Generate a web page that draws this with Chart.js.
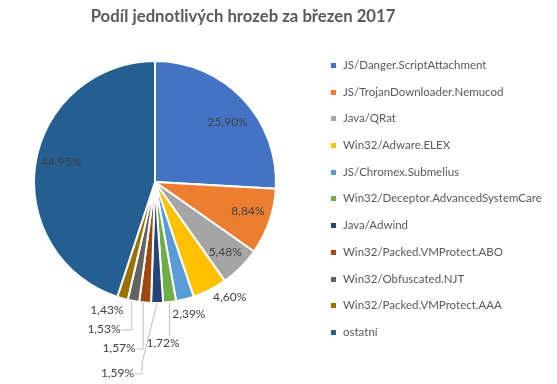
<!DOCTYPE html>
<html lang="cs">
<head>
<meta charset="UTF-8">
<title>Podíl jednotlivých hrozeb</title>
<script src="https://cdn.jsdelivr.net/npm/chart.js"></script>
<style>
  body { margin: 0; background: #fff; font-family: Lato, "Open Sans", sans-serif; }
  .wrap { position: relative; width: 557px; height: 384px; overflow: hidden; }
  #pie { position: absolute; left: 0; top: 0; }
  .title {
    position: absolute; left: 243px; top: 6px; transform: translateX(-50%);
    white-space: nowrap; font-weight: bold; font-size: 16.7px; color: #595959;
  }
  #legend { position: absolute; left: 331px; top: 57px; margin: 0; padding: 0; list-style: none; }
  #legend li {
    height: 26.7px; line-height: 16px; font-size: 11.5px; color: #595959;
    white-space: nowrap; display: flex; align-items: flex-start;
  }
  #legend .box { width: 5px; height: 5px; margin: 6px 7px 0 0; flex: none; }
</style>
</head>
<body>
<div class="wrap">
  <canvas id="pie" width="557" height="384"></canvas>
  <div class="title">Podíl jednotlivých hrozeb za březen 2017</div>
  <ul id="legend"></ul>
</div>

<script>
const threats = [
  'JS/Danger.ScriptAttachment',
  'JS/TrojanDownloader.Nemucod',
  'Java/QRat',
  'Win32/Adware.ELEX',
  'JS/Chromex.Submelius',
  'Win32/Deceptor.AdvancedSystemCare',
  'Java/Adwind',
  'Win32/Packed.VMProtect.ABO',
  'Win32/Obfuscated.NJT',
  'Win32/Packed.VMProtect.AAA',
  'ostatní'
];
const shares = [25.90, 8.84, 5.48, 4.60, 2.39, 1.72, 1.59, 1.57, 1.53, 1.43, 44.95];
const sliceColors = ['#4472C4', '#ED7D31', '#A5A5A5', '#FFC000', '#5B9BD5', '#70AD47',
                     '#264478', '#9E480E', '#636363', '#997300', '#255E91'];

// where each percentage label sits: r = fraction of radius, a = angle shift (deg),
// or an offset from the slice edge with a leader line (path relative to the edge point)
const labelSpots = [
  { r: 0.78, a: 3.7 },
  { r: 0.805, a: -1.8 },
  { r: 0.82, a: 0 },
  { r: 1.135, a: -6 },
  { r: 1.13, a: 0 },
  { dx: -6.6, dy: 40.6, path: [[0, 0], [0, 34]] },
  { dx: -39.6, dy: 69.7, path: [[0, 0], [-15, 60], [-15, 71], [-22, 71]] },
  { dx: -26, dy: 45.4, path: [[-2, 0], [-2, 46.5], [-8, 46.5]] },
  { dx: -29.4, dy: 27.9, path: [[-1.7, 0], [-1.7, 28.9], [-12.4, 28.9]] },
  { r: 1.13, a: 5 },
  { r: 0.795, a: 3.1 }
];

const pctLabels = {
  id: 'pctLabels',
  afterDatasetsDraw(chart) {
    const ctx = chart.ctx;
    const arcs = chart.getDatasetMeta(0).data;
    ctx.save();
    ctx.font = '12px Lato, "Open Sans", sans-serif';
    ctx.fillStyle = '#404040';
    ctx.textAlign = 'center';
    ctx.textBaseline = 'middle';
    ctx.strokeStyle = '#BFBFBF';
    ctx.lineWidth = 1;
    arcs.forEach((arc, i) => {
      const spot = labelSpots[i];
      const mid = (arc.startAngle + arc.endAngle) / 2;
      const R = arc.outerRadius;
      const text = shares[i].toFixed(2).replace('.', ',') + '%';
      let lx, ly;
      if (spot.path) {
        const ax = arc.x + R * Math.cos(mid);
        const ay = arc.y + R * Math.sin(mid);
        ctx.beginPath();
        spot.path.forEach(([px, py], k) => {
          if (k === 0) ctx.moveTo(ax + px, ay + py);
          else ctx.lineTo(ax + px, ay + py);
        });
        ctx.stroke();
        lx = ax + spot.dx;
        ly = ay + spot.dy;
      } else {
        const ang = mid + spot.a * Math.PI / 180;
        lx = arc.x + R * spot.r * Math.cos(ang);
        ly = arc.y + R * spot.r * Math.sin(ang);
      }
      ctx.fillText(text, lx, ly);
    });
    ctx.restore();
  }
};

const chart = new Chart(document.getElementById('pie'), {
  type: 'pie',
  data: {
    labels: threats,
    datasets: [{
      data: shares,
      backgroundColor: sliceColors,
      borderColor: '#FFFFFF',
      borderWidth: 2
    }]
  },
  plugins: [pctLabels],
  options: {
    responsive: false,
    animation: false,
    layout: { padding: { left: 33, right: 280, top: 60, bottom: 80 } },
    plugins: {
      legend: { display: false },
      tooltip: { enabled: false }
    }
  }
});

// legend built from the chart's own legend items
const legendEl = document.getElementById('legend');
chart.options.plugins.legend.labels.generateLabels(chart).forEach(item => {
  const li = document.createElement('li');
  const box = document.createElement('span');
  box.className = 'box';
  box.style.background = item.fillStyle;
  li.appendChild(box);
  li.appendChild(document.createTextNode(item.text));
  legendEl.appendChild(li);
});
</script>
</body>
</html>
